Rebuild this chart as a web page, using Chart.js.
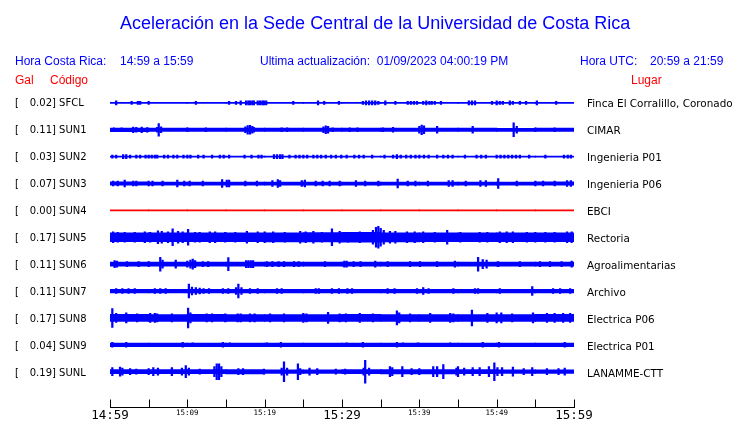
<!DOCTYPE html>
<html><head><meta charset="utf-8">
<script src="https://cdn.jsdelivr.net/npm/chart.js@4.4.0/dist/chart.umd.min.js"></script>
<style>
html,body{margin:0;padding:0;background:#fff;}
#wrap{position:relative;width:740px;height:423px;overflow:hidden;}
canvas{position:absolute;left:0;top:0;}
.t{position:absolute;white-space:pre;}
.hdr{font-family:"Liberation Sans",Arial,sans-serif;font-size:12px;line-height:14px;color:#0000ff;}
.red{font-family:"Liberation Sans",Arial,sans-serif;font-size:12px;line-height:14px;color:#ff0000;}
.lbl{font-family:"DejaVu Sans",sans-serif;font-size:10px;line-height:12px;color:#000;}
.plc{font-family:"DejaVu Sans",sans-serif;font-size:10.4px;line-height:12px;color:#000;}
</style></head>
<body><div id="wrap">
<canvas id="c" width="740" height="423"></canvas>
<div class="t" style="left:120px;top:12.8px;font-family:'Liberation Sans',Arial,sans-serif;font-size:18px;line-height:20px;color:#0000ff;">Aceleración en la Sede Central de la Universidad de Costa Rica</div>
<div class="t hdr" style="left:15px;top:53.8px;">Hora Costa Rica:</div>
<div class="t hdr" style="left:120px;top:53.8px;">14:59 a 15:59</div>
<div class="t hdr" style="left:260px;top:53.8px;">Ultima actualización:  01/09/2023 04:00:19 PM</div>
<div class="t hdr" style="left:580px;top:53.8px;">Hora UTC:</div>
<div class="t hdr" style="left:650px;top:53.8px;">20:59 a 21:59</div>
<div class="t red" style="left:15px;top:72.8px;">Gal</div>
<div class="t red" style="left:50px;top:72.8px;">Código</div>
<div class="t red" style="left:631px;top:72.8px;">Lugar</div>
<div id="rows"></div>
</div>
<script>
// ---- data ----
const timeLabels = ['14:59','15:09','15:19','15:29','15:39','15:49','15:59'];
const codes  = ['SFCL','SUN1','SUN2','SUN3','SUN4','SUN5','SUN6','SUN7','SUN8','SUN9','SUNL'];
const gals   = ['0.02','0.11','0.03','0.07','0.00','0.17','0.11','0.11','0.17','0.04','0.19'];
const places = ['Finca El Corralillo, Coronado','CIMAR','Ingenieria P01','Ingenieria P06','EBCI','Rectoria','Agroalimentarias','Archivo','Electrica P06','Electrica P01','LANAMME-CTT'];

// noise-floor half amplitude, one value per 5-minute block
const floorSFCL = [0.5,0.5,0.5,0.5,0.5,0.5,0.5,0.5,0.5,0.5,0.5,0.5];
const floorSUN1 = [1.8,1.7,1.7,1.7,1.7,1.7,1.7,1.7,1.7,1.7,1.6,1.7];
const floorSUN2 = [0.5,0.5,0.5,0.5,0.5,0.5,0.5,0.5,0.5,0.5,0.5,0.5];
const floorSUN3 = [1.7,1.6,1.6,1.6,1.6,1.6,1.6,1.6,1.6,1.6,1.6,1.7];
const floorSUN4 = [0.5,0.5,0.5,0.5,0.5,0.5,0.5,0.5,0.5,0.5,0.5,0.5];
const floorSUN5 = [4.4,4.4,4.4,4.4,4.6,4.7,4.9,4.6,4.4,4.4,4.4,4.4];
const floorSUN6 = [2.0,2.0,2.0,2.0,2.0,2.0,2.0,2.0,2.0,2.0,2.0,2.0];
const floorSUN7 = [1.8,1.8,1.8,1.8,1.8,1.8,1.8,1.8,1.8,1.8,1.8,1.8];
const floorSUN8 = [3.6,3.4,3.6,3.4,3.4,3.4,3.6,3.4,3.4,3.4,3.4,3.6];
const floorSUN9 = [1.8,1.8,1.8,1.8,1.8,1.8,1.8,1.8,1.8,1.8,1.8,1.8];
const floorSUNL = [2.0,2.0,2.0,2.2,1.8,1.8,2.0,2.2,2.2,2.0,1.8,1.8];

// spikes: [minute, half amplitude]
const spikesSFCL = [[0.8,2],[2.8,1.5],[3.6,1.5],[3.9,1.5],[5.0,1.5],[11.1,1.5],[15.4,1.5],[16.3,1.5],[16.9,2],[17.6,2],[17.9,2],[18.1,2],[18.4,2],[18.6,2],[19.1,2],[19.4,2],[19.7,2],[19.9,2],[20.2,2],[23.7,1.5],[26.9,2],[27.7,1.5],[29.6,1.5],[32.7,1.5],[33.1,2],[33.5,2],[33.9,2],[34.3,2],[34.7,1.5],[35.6,2],[36.9,1.5],[38.5,1.5],[38.9,1.5],[39.3,1.5],[39.7,1.5],[40.5,1.5],[40.9,2],[41.3,1.5],[41.6,1.5],[42.0,1.5],[42.8,1.5],[46.4,2],[46.8,2],[47.2,2],[49.4,1.5],[50.0,2],[50.4,1.5],[50.8,1.5],[51.7,2],[52.1,1.5],[53.0,1.5],[53.8,1.5],[55.2,2],[57.7,1.5]];
const spikesSUN1 = [[0.5,2],[1.5,2],[3.0,2.8],[3.4,2.5],[4.1,2.8],[4.8,2.3],[6.1,2.5],[6.3,6.3],[6.6,3],[10.0,2],[12.4,2],[17.5,3],[17.8,4.3],[18.1,4.5],[18.4,3.5],[18.6,2.5],[22.2,2],[22.9,2],[27.6,3],[27.9,4],[28.2,3.5],[28.8,2],[31.0,2],[32.0,2],[35.3,2],[36.6,2.5],[40.0,3.5],[40.3,4.8],[40.6,4],[42.3,3.5],[46.9,3.5],[52.2,7],[52.6,3.5],[55.0,2],[57.5,2]];
const spikesSUN2 = [[0.3,1.5],[0.8,1.5],[1.7,2],[2.1,2],[2.6,1.5],[3.4,1.5],[3.9,1.5],[4.6,1.5],[5.0,1.5],[5.4,1.5],[5.8,1.5],[6.1,1.5],[7.0,1.5],[7.5,1.5],[8.2,1.5],[8.7,1.5],[9.5,1.5],[10.0,1.5],[10.4,1.5],[11.4,1.5],[12.1,1.5],[13.2,1.5],[14.2,1.5],[14.7,1.5],[15.4,1.5],[17.4,1.5],[18.3,1.5],[19.2,1.5],[19.6,1.5],[21.2,2],[21.6,2],[22.0,2],[22.3,2],[23.2,1.5],[24.0,1.5],[24.5,1.5],[25.0,1.5],[25.5,1.5],[26.3,1.5],[26.8,1.5],[27.3,1.5],[27.9,1.5],[28.6,1.5],[29.2,1.5],[29.9,1.5],[30.6,1.5],[31.6,1.5],[32.2,1.5],[32.8,1.5],[33.9,1.5],[35.5,1.5],[36.6,1.5],[37.1,2],[37.6,1.5],[38.3,1.5],[38.9,1.5],[39.5,1.5],[40.0,1.5],[40.6,1.5],[41.2,1.5],[42.3,1.5],[43.1,1.5],[43.7,1.5],[44.3,1.5],[45.9,1.5],[47.4,1.5],[48.0,1.5],[48.6,1.5],[50.0,1.5],[50.5,1.5],[51.0,1.5],[51.5,1.5],[52.0,1.5],[52.5,1.5],[53.0,1.5],[54.2,1.5],[56.3,1.5],[58.7,1.5],[59.2,1.5],[59.6,1.5]];
const spikesSUN3 = [[0.4,2.5],[1.0,2.5],[1.9,3.5],[3.0,2.5],[3.4,2.5],[5.0,2.5],[5.5,2.5],[6.8,2.5],[8.7,3.5],[9.6,2.5],[10.3,2.5],[12.0,2.5],[14.5,4],[15.1,3.5],[15.4,3.5],[17.5,2.5],[19.0,2.5],[21.0,3],[21.7,4],[22.0,3],[24.8,3],[25.2,3.5],[26.6,2.5],[27.5,2.5],[28.4,2.5],[29.7,2.5],[31.8,3],[33.0,2.5],[34.7,2.5],[37.2,4.5],[38.5,2.5],[39.5,2.5],[41.1,2.5],[43.8,3],[44.3,3],[46.0,2.5],[47.9,3],[48.6,3],[50.2,5],[52.6,2.5],[55.0,2.5],[56.0,2.5],[57.5,2.5],[59.1,3],[59.6,3]];
const spikesSUN4 = [];
const spikesSUN5 = [[0.4,5.5],[1.0,5],[1.9,5],[3.2,5],[4.5,5.5],[5.2,5],[6.2,6.5],[6.7,6],[7.5,5.5],[8.1,8.5],[8.8,6],[9.4,5.5],[10.1,8],[11.0,5],[11.6,5],[12.9,5.5],[13.6,5.5],[14.9,5],[16.2,5],[17.7,6],[19.1,5.5],[20.0,5.5],[21.1,5.5],[22.6,5],[24.6,6],[25.3,5.5],[26.3,6],[27.4,5],[28.7,8.5],[29.7,6],[30.8,5],[32.3,5.5],[34.0,7],[34.4,10],[34.7,11],[35.0,9],[35.4,7],[36.2,6],[36.9,6],[38.4,5.5],[39.4,5.5],[40.5,5.5],[42.0,5],[43.6,7],[45.3,5],[47.8,5],[48.8,5],[50.4,5.5],[51.3,5.5],[52.1,5.5],[53.9,5],[55.0,5],[56.3,5],[57.5,5],[59.1,5.5],[59.7,5.5]];
const spikesSUN6 = [[0.6,3.5],[0.9,3],[2.2,2.5],[3.7,2.5],[5.0,2.5],[6.5,7],[6.8,4],[8.5,4],[10.0,3],[10.4,4],[10.7,5],[11.0,3.5],[12.0,2.5],[12.7,2.5],[15.3,6.5],[17.6,3.5],[17.9,3.5],[18.2,3.5],[18.5,3.5],[20.3,2.5],[21.0,2.5],[21.8,2.5],[22.5,2.5],[23.8,2.5],[24.4,2.5],[27.8,2.5],[30.3,3],[30.6,3],[31.5,2.5],[32.4,2.5],[34.3,3],[35.9,2.5],[38.8,2.5],[40.1,2.5],[42.3,2.5],[44.6,3],[47.6,7],[48.2,4.5],[48.7,4],[50.2,2.5],[53.0,2.5],[55.6,2.5],[56.9,2.5],[58.4,2.5],[59.7,3]];
const spikesSUN7 = [[0.8,2.5],[1.6,2.5],[2.4,2.5],[3.2,2.5],[5.8,2.5],[6.5,2.5],[7.2,2.5],[10.2,7],[10.6,4],[11.1,3.5],[11.6,3],[12.1,2.5],[12.8,2.5],[14.6,2.5],[15.3,2.5],[16.3,3.5],[16.6,7],[17.0,3.5],[18.1,2.5],[19.1,2.5],[21.6,2.5],[22.2,2.5],[26.6,2.5],[27.0,2.5],[28.7,2.5],[29.6,2.5],[30.7,2.5],[31.3,2.5],[35.9,2.5],[36.8,2.5],[39.7,2.5],[40.5,3.5],[41.2,2.5],[44.4,2.5],[47.2,2.5],[47.6,2.5],[50.4,2.5],[54.6,4.5],[57.3,2.5],[58.2,2.5],[59.5,2.5]];
const spikesSUN8 = [[0.3,9.5],[0.8,4.5],[2.1,5],[3.5,4],[5.2,4.5],[5.8,4.5],[6.1,4],[8.0,4],[10.1,10],[10.4,5],[12.5,4],[13.2,4],[14.9,4],[16.5,4],[16.9,4],[18.1,4],[18.7,4],[20.7,4],[22.5,4],[25.0,4.5],[25.4,4],[28.2,5.5],[29.7,4],[30.5,4],[32.3,4.5],[34.0,4],[37.1,7],[37.4,5],[38.8,4],[41.4,4.5],[44.0,4.5],[44.4,4],[46.8,8],[48.8,4.5],[50.0,5],[50.6,5],[52.0,4],[54.7,5],[56.5,4.5],[57.5,4.5],[58.6,4.5],[59.5,4.5]];
const spikesSUN9 = [[0.3,2.5],[2.1,2.5],[9.4,2.5],[10.7,2],[14.6,2.5],[15.5,2],[20.3,2],[22.1,2.5],[30.6,2],[32.7,2.5],[37.1,2.5],[37.9,2],[39.8,2],[44.0,2],[48.2,2.5],[50.3,2.5],[58.8,2.5]];
const spikesSUNL = [[0.3,4],[1.3,4.5],[1.6,3.5],[2.6,3],[3.4,2.5],[5.0,3],[5.6,4],[6.2,3.5],[8.0,4],[9.3,3.5],[9.8,6],[10.2,3.5],[11.6,2.5],[13.5,5],[13.8,8],[14.1,8],[14.4,5],[16.6,3],[17.2,3],[19.9,2.5],[22.2,3.5],[22.5,10],[22.9,3.5],[24.3,8],[24.6,3],[25.8,3.5],[26.8,3],[29.2,2.5],[30.4,2.5],[32.8,3.5],[33.0,11.5],[33.5,3.5],[36.2,5],[36.5,4],[37.8,5],[39.0,3],[40.0,3],[41.8,5],[42.3,5],[43.1,7],[44.8,3.5],[45.0,5],[45.8,3.5],[46.9,4],[47.8,4],[49.0,5],[49.7,9],[50.1,4],[50.7,4],[52.1,4.5],[53.5,3],[54.6,4],[56.5,3],[58.0,3],[58.8,3.5]];

const floors = [floorSFCL,floorSUN1,floorSUN2,floorSUN3,floorSUN4,floorSUN5,floorSUN6,floorSUN7,floorSUN8,floorSUN9,floorSUNL];
const spikes = [spikesSFCL,spikesSUN1,spikesSUN2,spikesSUN3,spikesSUN4,spikesSUN5,spikesSUN6,spikesSUN7,spikesSUN8,spikesSUN9,spikesSUNL];

// ---- layout / style ----
const ROW = 27;            // vertical spacing of traces (data units = px)
const BLOCK = 5;           // minutes per floor value
const BLUE = '#0000ff', RED = '#ff0000';

// row labels
const rowsDiv = document.getElementById('rows');
codes.forEach((c,k) => {
  const cy = 103 + ROW*k - 5.8;
  rowsDiv.insertAdjacentHTML('beforeend',
    `<div class="t lbl" style="left:15px;top:${cy}px;">[</div>`+
    `<div class="t lbl" style="left:20px;width:32px;text-align:right;top:${cy}px;">${gals[k]}</div>`+
    `<div class="t lbl" style="left:52px;top:${cy}px;">] ${c}</div>`+
    `<div class="t plc" style="left:587px;top:${cy}px;">${places[k]}</div>`);
});

const datasets = [];
codes.forEach((c,k) => {
  const base = -ROW*k;
  const col = c === 'SUN4' ? RED : BLUE;
  datasets.push({
    data: floors[k].map((a,i) => ({x: (i+0.5)*BLOCK, y: [base-a, base+a]})),
    backgroundColor: col, borderWidth: 0, barThickness: 39.2, grouped: false
  });
  if (spikes[k].length) datasets.push({
    data: spikes[k].map(([m,a]) => ({x: m, y: [base-a, base+a]})),
    backgroundColor: col, borderWidth: 0, barThickness: 1.6, grouped: false
  });
});

const upTicks = {
  id: 'upTicks',
  afterDraw(chart) {
    const xs = chart.scales.x, ctx = chart.ctx, b = chart.chartArea.bottom;
    ctx.save(); ctx.strokeStyle = '#000'; ctx.lineWidth = 1;
    xs.ticks.forEach(t => {
      const px = Math.round(xs.getPixelForValue(t.value)) + 0.5;
      ctx.beginPath(); ctx.moveTo(px, b - 8); ctx.lineTo(px, b); ctx.stroke();
    });
    ctx.restore();
  }
};

new Chart(document.getElementById('c'), {
  type: 'bar',
  data: { datasets },
  options: {
    responsive: false, animation: false,
    layout: { padding: { left: 110, right: 166, top: 88, bottom: 0 } },
    plugins: { legend: {display:false}, tooltip: {enabled:false} },
    scales: {
      x: {
        type: 'linear', min: 0, max: 60, offset: false,
        grid: { display: false, drawTicks: false },
        border: { display: true, color: '#000', width: 1 },
        ticks: {
          stepSize: 5, autoSkip: false, maxRotation: 0, padding: 1.5, color: '#000',
          callback: v => (v % 10 === 0 ? timeLabels[v/10] : ''),
          font: ctx => ({ family: 'DejaVu Sans Mono', size: (ctx.tick && ctx.tick.value % 30 === 0) ? 12.5 : 7.5, lineHeight: 1 })
        }
      },
      y: { type: 'linear', display: false, min: -306, max: 15 }
    }
  },
  plugins: [upTicks]
});
</script>
</body></html>
